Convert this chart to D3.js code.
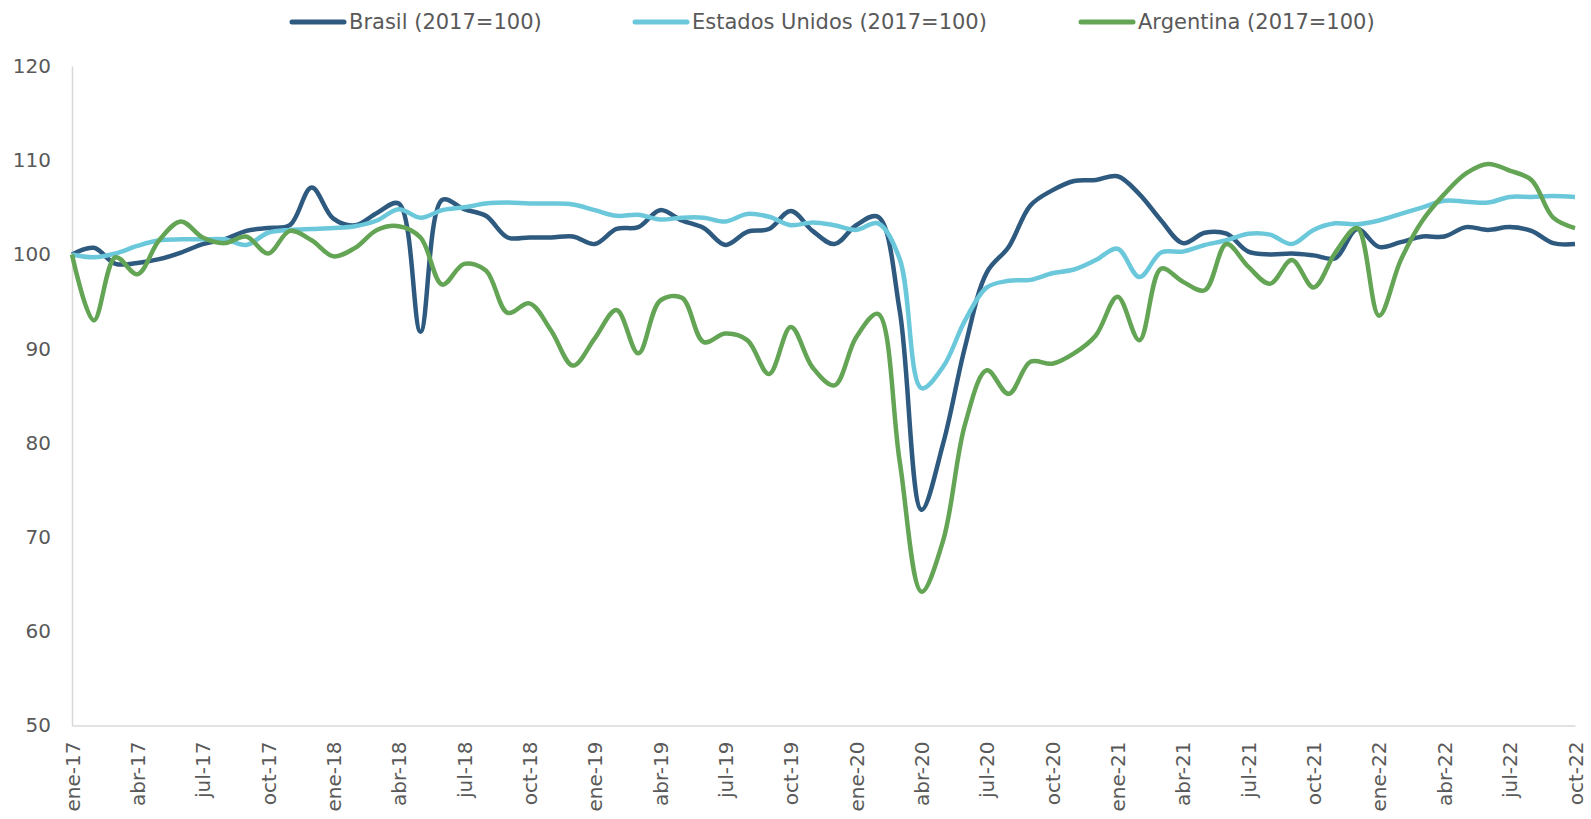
<!DOCTYPE html>
<html>
<head>
<meta charset="utf-8">
<script src="https://cdn.jsdelivr.net/npm/d3@7"></script>
<style>
  body { margin: 0; background: #fff; }
  text { font-family: "DejaVu Sans", Verdana, sans-serif; fill: #595959; }
</style>
</head>
<body>
<svg width="1591" height="819"></svg>
<script>
const mesesNombres = ['ene','feb','mar','abr','may','jun','jul','ago','sep','oct','nov','dic'];
const anios = ['17','18','19','20','21','22'];
// ene-17 ... oct-22 (70 meses)
const categories = anios.flatMap(a => mesesNombres.map(m => m + '-' + a)).slice(0, 70);

const tickLabels = ['ene-17','abr-17','jul-17','oct-17','ene-18','abr-18','jul-18','oct-18',
  'ene-19','abr-19','jul-19','oct-19','ene-20','abr-20','jul-20','oct-20',
  'ene-21','abr-21','jul-21','oct-21','ene-22','abr-22','jul-22','oct-22'];
const yTicks = [50, 60, 70, 80, 90, 100, 110, 120];

const brasil = [100.0, 100.7, 99.0, 99.1, 99.5, 100.2, 101.1, 101.6, 102.5, 102.8,
  103.1, 107.1, 103.8, 103.1, 104.4, 105.4, 91.8, 105.8, 104.8, 104.1,
  101.8, 101.8, 101.8, 101.9, 101.1, 102.7, 102.9, 104.7, 103.6, 102.8,
  101.0, 102.4, 102.7, 104.6, 102.5, 101.1, 103.1, 104.0, 94.0, 72.9,
  80.0, 90.2, 98.1, 100.8, 105.2, 106.8, 107.8, 107.9, 108.3, 106.4,
  103.6, 101.2, 102.3, 102.2, 100.3, 100.0, 100.1, 99.9, 99.6, 102.7,
  100.8, 101.3, 101.9, 101.9, 102.9, 102.6, 102.9, 102.5, 101.2, 101.1];

const eeuu = [100.0, 99.7, 100.1, 100.9, 101.5, 101.6, 101.6, 101.6, 101.0, 102.3,
  102.6, 102.7, 102.8, 103.0, 103.6, 104.8, 103.9, 104.7, 105.0, 105.4,
  105.5, 105.4, 105.4, 105.3, 104.7, 104.1, 104.2, 103.7, 103.9, 103.9,
  103.5, 104.3, 104.0, 103.1, 103.4, 103.1, 102.6, 103.3, 99.5, 85.8,
  88.1, 93.0, 96.5, 97.2, 97.3, 98.0, 98.4, 99.4, 100.6, 97.6,
  100.2, 100.3, 101.0, 101.5, 102.2, 102.1, 101.1, 102.6, 103.3, 103.2,
  103.6, 104.3, 105.0, 105.7, 105.6, 105.5, 106.1, 106.1, 106.2, 106.1];

const argentina = [100.0, 93.0, 99.7, 97.9, 101.5, 103.5, 101.8, 101.2, 101.9, 100.1,
  102.5, 101.5, 99.8, 100.7, 102.6, 103.0, 101.8, 96.8, 99.0, 98.3,
  93.8, 94.8, 91.9, 88.2, 91.1, 94.1, 89.5, 95.1, 95.4, 90.7,
  91.6, 90.9, 87.3, 92.3, 88.0, 86.1, 91.2, 93.7, 78.0, 64.2,
  69.7, 82.0, 87.7, 85.2, 88.6, 88.4, 89.5, 91.4, 95.5, 90.9,
  98.5, 97.1, 96.2, 101.1, 98.7, 96.9, 99.4, 96.5, 100.2, 102.8,
  93.5, 99.4, 103.6, 106.4, 108.6, 109.6, 108.9, 107.9, 103.9, 102.8];

const series = [
  { name: 'Brasil (2017=100)', values: brasil, color: '#2E5A7F', lx: 290 },
  { name: 'Estados Unidos (2017=100)', values: eeuu, color: '#6BC8DB', lx: 633 },
  { name: 'Argentina (2017=100)', values: argentina, color: '#63A455', lx: 1079 }
];

const svg = d3.select('svg');
const plotLeft = 72, plotRight = 1575, plotTop = 66, plotBottom = 725.5;

const x = d3.scalePoint().domain(categories).range([plotLeft, plotRight]);
const y = d3.scaleLinear().domain([50, 120]).range([plotBottom, plotTop]);

// ejes
const gx = svg.append('g').attr('transform', `translate(0,${plotBottom})`)
  .call(d3.axisBottom(x).tickValues(tickLabels).tickSize(0));
gx.select('.domain').attr('stroke', '#d9d9d9').attr('stroke-width', 1.5);
gx.selectAll('text')
  .attr('transform', 'rotate(-90)')
  .attr('text-anchor', 'end')
  .attr('x', -16).attr('y', 0).attr('dy', '0.35em')
  .style('font-size', '20px');

const gy = svg.append('g').attr('transform', `translate(${plotLeft},0)`)
  .call(d3.axisLeft(y).tickValues(yTicks).tickSize(0).tickPadding(21));
gy.select('.domain').attr('stroke', '#d9d9d9').attr('stroke-width', 1.5);
gy.selectAll('text').style('font-size', '20px');
svg.selectAll('.tick text').attr('fill', '#595959');

// lineas suavizadas
const line = d3.line()
  .x((d, i) => x(categories[i]))
  .y(d => y(d))
  .curve(d3.curveCatmullRom.alpha(0.5));

svg.append('g').selectAll('path')
  .data(series)
  .join('path')
  .attr('d', d => line(d.values))
  .attr('fill', 'none')
  .attr('stroke', d => d.color)
  .attr('stroke-width', 4.5)
  .attr('stroke-linejoin', 'round');

// leyenda
const leg = svg.append('g').selectAll('g')
  .data(series)
  .join('g')
  .attr('transform', d => `translate(${d.lx},22)`);
leg.append('line')
  .attr('x1', 2).attr('x2', 54)
  .attr('stroke', d => d.color)
  .attr('stroke-width', 5)
  .attr('stroke-linecap', 'round');
leg.append('text')
  .attr('x', 59).attr('dy', '0.35em')
  .style('font-size', '21px')
  .text(d => d.name);
</script>
</body>
</html>
